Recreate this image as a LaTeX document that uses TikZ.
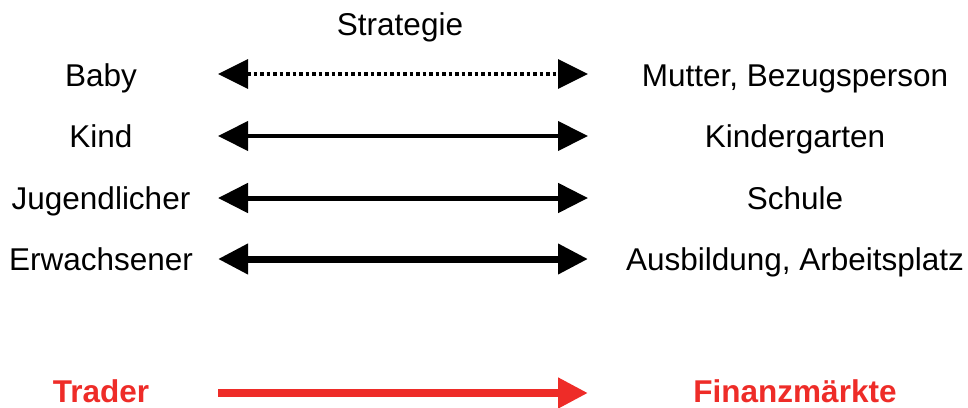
\documentclass[tikz,border=0pt]{standalone}
\usepackage{fontspec}
\setmainfont{Liberation Sans}
\usetikzlibrary{arrows.meta}
\definecolor{tred}{RGB}{238,44,40}
\begin{document}
\begin{tikzpicture}[x=1pt,y=-1pt,
  lbl/.style={anchor=base,inner sep=0pt,font=\fontsize{31.5}{36}\selectfont},
  rlbl/.style={lbl,text=tred,font=\fontsize{31.5}{36}\selectfont\bfseries},
  dbl/.style={{Triangle[length=30pt,width=29pt]}-{Triangle[length=30pt,width=29pt]}}
]
\useasboundingbox (0,0) rectangle (968,407);
\node[lbl] (strat) at (400,35) {Strategie};
\node[lbl] (baby) at (101,86) {Baby};
\node[lbl] (kind) at (101,147) {Kind};
\node[lbl] (jug) at (101,209) {Jugendlicher};
\node[lbl] (erw) at (101,270) {Erwachsener};
\node[lbl] (mut) at (795,86) {Mutter, Bezugsperson};
\node[lbl] (kg) at (795,147) {Kindergarten};
\node[lbl] (sch) at (795,209) {Schule};
\node[lbl] (aus) at (795,270) {Ausbildung, Arbeitsplatz};
\node[rlbl] (trader) at (101,402) {Trader};
\node[rlbl] (fin) at (795,402) {Finanzmärkte};
\coordinate (l1) at (218,74);  \coordinate (r1) at (588,74);
\coordinate (l2) at (218,136); \coordinate (r2) at (588,136);
\coordinate (l3) at (218,198); \coordinate (r3) at (588,198);
\coordinate (l4) at (218,259); \coordinate (r4) at (588,259);
\coordinate (l5) at (218,393); \coordinate (r5) at (588,393);
\draw[dbl,line width=3.5pt,dash pattern=on 3.5pt off 3pt] (l1) -- (r1);
\draw[dbl,line width=4pt] (l2) -- (r2);
\draw[dbl,line width=5pt] (l3) -- (r3);
\draw[dbl,line width=7pt] (l4) -- (r4);
\draw[-{Triangle[length=30pt,width=29pt]},line width=8pt,tred] (l5) -- (r5);
\end{tikzpicture}
\end{document}
